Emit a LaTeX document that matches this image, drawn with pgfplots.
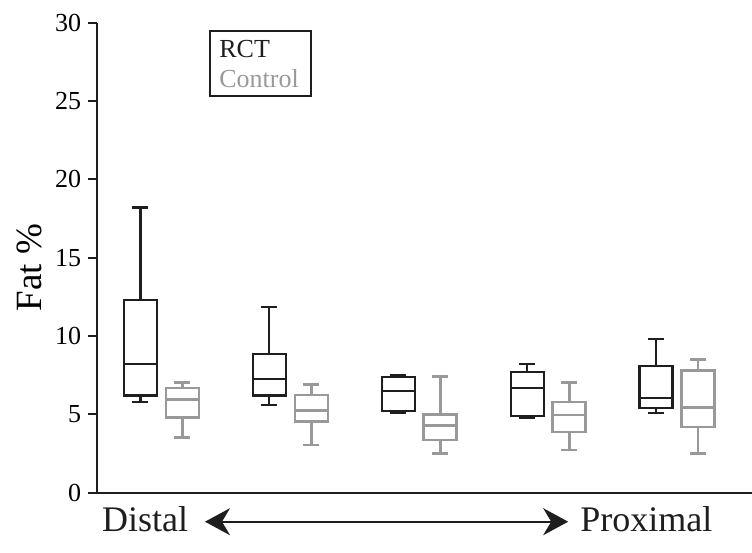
\documentclass[border=0pt]{standalone}
\usepackage{pgfplots}
\pgfplotsset{compat=1.18}
\usepgfplotslibrary{statistics}
\usetikzlibrary{arrows.meta}
\usepackage{fontspec}
\setmainfont{Liberation Serif}
\definecolor{rctc}{HTML}{1E1E1E}
\definecolor{ctlc}{HTML}{999999}
\begin{document}
\begin{tikzpicture}
\path[use as bounding box] (-48.5pt,-30.15pt) rectangle (327.5pt,246.35pt);
\begin{axis}[
  scale only axis,
  width=327.5pt, height=235pt,
  xmin=0.5, xmax=5.581,
  ymin=0, ymax=30,
  axis x line*=bottom,
  axis y line*=left,
  xtick=\empty,
  ytick={0,5,...,30},
  tick align=outside,
  major tick length=4.7pt,
  axis line style={line width=1pt, draw=rctc},
  every tick/.style={line width=1pt, draw=rctc},
  /pgf/number format/assume math mode=true,
  yticklabel style={font=\fontsize{13}{15}\selectfont, inner sep=0pt, xshift=-3pt},
  ylabel={Fat \%},
  every axis y label/.style={at={(rel axis cs:0,0.479)}, xshift=-34pt, rotate=90, anchor=center, font=\fontsize{18.5}{22}\selectfont},
  clip=false,
  boxplot/draw direction=y,
  boxplot/box extend=0.256,
  boxplot/whisker extend=0.124,
]
% RCT
\addplot[draw=rctc, line width=1.1pt, boxplot prepared={draw position=0.837, lower whisker=5.77, lower quartile=6.21, median=8.19, upper quartile=12.30, upper whisker=18.21}] coordinates {};
\addplot[draw=rctc, line width=1.1pt, boxplot prepared={draw position=1.837, lower whisker=5.58, lower quartile=6.21, median=7.28, upper quartile=8.83, upper whisker=11.87}] coordinates {};
\addplot[draw=rctc, line width=1.1pt, boxplot prepared={draw position=2.837, lower whisker=5.11, lower quartile=5.23, median=6.47, upper quartile=7.40, upper whisker=7.51}] coordinates {};
\addplot[draw=rctc, line width=1.1pt, boxplot prepared={draw position=3.837, lower whisker=4.79, lower quartile=4.88, median=6.66, upper quartile=7.70, upper whisker=8.19}] coordinates {};
\addplot[draw=rctc, line width=1.1pt, boxplot prepared={draw position=4.837, lower whisker=5.07, lower quartile=5.42, median=6.02, upper quartile=8.11, upper whisker=9.83}] coordinates {};
% Control
\addplot[draw=ctlc, line width=1.3pt, boxplot prepared={draw position=1.163, lower whisker=3.51, lower quartile=4.79, median=5.96, upper quartile=6.68, upper whisker=7.05}] coordinates {};
\addplot[draw=ctlc, line width=1.3pt, boxplot prepared={draw position=2.163, lower whisker=3.04, lower quartile=4.53, median=5.23, upper quartile=6.23, upper whisker=6.92}] coordinates {};
\addplot[draw=ctlc, line width=1.3pt, boxplot prepared={draw position=3.163, lower whisker=2.49, lower quartile=3.36, median=4.28, upper quartile=5.00, upper whisker=7.43}] coordinates {};
\addplot[draw=ctlc, line width=1.3pt, boxplot prepared={draw position=4.163, lower whisker=2.72, lower quartile=3.87, median=4.96, upper quartile=5.79, upper whisker=7.02}] coordinates {};
\addplot[draw=ctlc, line width=1.3pt, boxplot prepared={draw position=5.163, lower whisker=2.49, lower quartile=4.19, median=5.45, upper quartile=7.79, upper whisker=8.51}] coordinates {};
\end{axis}
% legend
\draw[line width=1pt, draw=rctc] (56.5pt,198.5pt) rectangle (107pt,230.85pt);
\node[anchor=base west, inner sep=0pt, font=\fontsize{13}{15}\selectfont, text=rctc] at (61pt,217.7pt) {RCT};
\node[anchor=base west, inner sep=0pt, font=\fontsize{13}{15}\selectfont, text=ctlc] at (61pt,202.7pt) {Control};
% bottom annotation
\node[anchor=base west, inner sep=0pt, font=\fontsize{18}{21}\selectfont, text=rctc] at (2.35pt,-19.5pt) {Distal};
\node[anchor=base west, inner sep=0pt, font=\fontsize{18}{21}\selectfont, text=rctc] at (241.5pt,-19.5pt) {Proximal};
\draw[line width=1.1pt, draw=rctc, {Stealth[length=12.5pt, width=13.5pt, inset=4pt]}-{Stealth[length=12.5pt, width=13.5pt, inset=4pt]}] (54pt,-14.5pt) -- (235.6pt,-14.5pt);
\end{tikzpicture}
\end{document}
